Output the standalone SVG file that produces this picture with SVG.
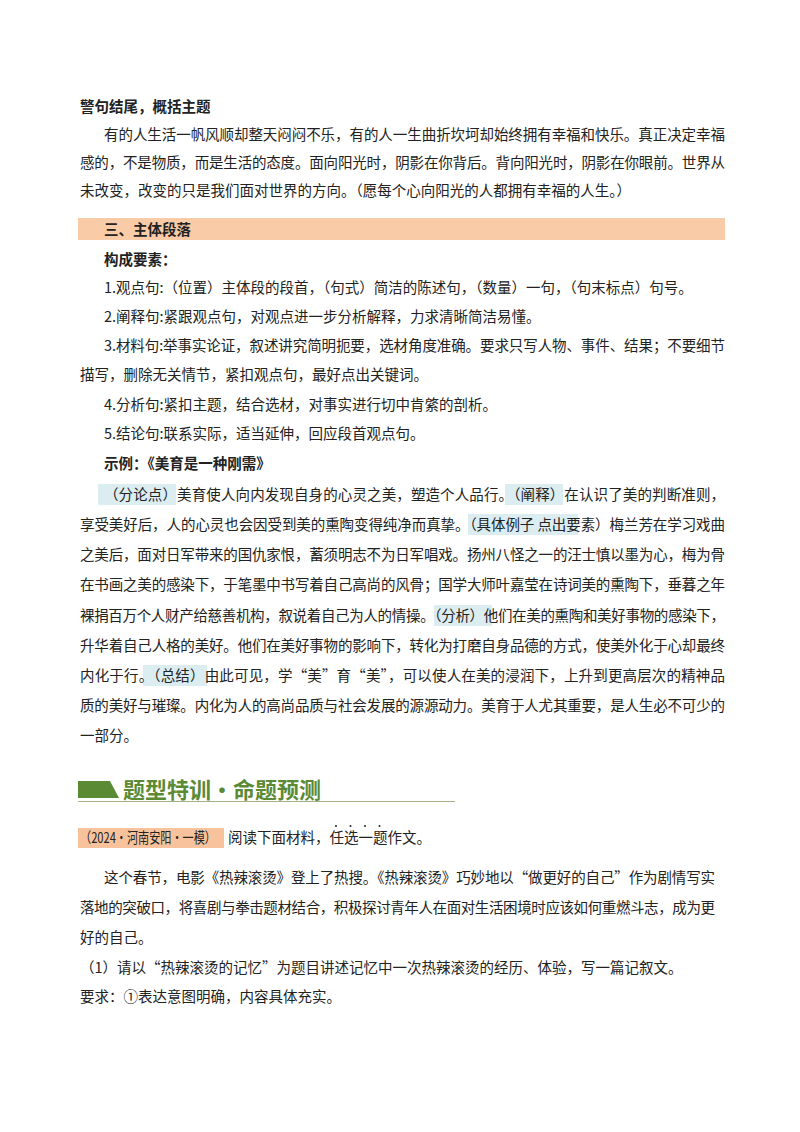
<svg xmlns="http://www.w3.org/2000/svg" width="800" height="1132" viewBox="0 0 800 1132">
<style>
text{font-family:"Noto Sans CJK SC","Noto Sans",sans-serif;font-size:14.5px;fill:#222}
.b{font-weight:bold}
.hl{fill:#dcedf2}
</style>
<rect width="800" height="1132" fill="#fff"/>
<g id="intro">
<text class="b" x="80" y="112">警句结尾，概括主题</text>
<text x="104" y="140" textLength="621" lengthAdjust="spacing">有的人生活一帆风顺却整天闷闷不乐，有的人一生曲折坎坷却始终拥有幸福和快乐。真正决定幸福</text>
<text x="80" y="168" textLength="645" lengthAdjust="spacing">感的，不是物质，而是生活的态度。面向阳光时，阴影在你背后。背向阳光时，阴影在你眼前。世界从</text>
<text x="80" y="196">未改变，改变的只是我们面对世界的方向。（愿每个心向阳光的人都拥有幸福的人生。）</text>
</g>
<g id="section3">
<rect x="78" y="218" width="647" height="22" fill="#f9cba7"/>
<text class="b" x="104" y="235">三、主体段落</text>
<text class="b" x="104" y="265">构成要素：</text>
<text x="104" y="293">1.观点句:（位置）主体段的段首，（句式）简洁的陈述句，（数量）一句，（句末标点）句号。</text>
<text x="104" y="322">2.阐释句:紧跟观点句，对观点进一步分析解释，力求清晰简洁易懂。</text>
<text x="104" y="351" textLength="621" lengthAdjust="spacing">3.材料句:举事实论证，叙述讲究简明扼要，选材角度准确。要求只写人物、事件、结果；不要细节</text>
<text x="80" y="380">描写，删除无关情节，紧扣观点句，最好点出关键词。</text>
<text x="104" y="410">4.分析句:紧扣主题，结合选材，对事实进行切中肯綮的剖析。</text>
<text x="104" y="439">5.结论句:联系实际，适当延伸，回应段首观点句。</text>
<text class="b" x="104" y="469">示例：《美育是一种刚需》</text>
</g>
<g id="example">
<rect class="hl" x="98" y="484" width="78" height="21"/>
<rect class="hl" x="505" y="484" width="58" height="21"/>
<rect class="hl" x="468" y="514" width="110" height="21"/>
<rect class="hl" x="434" y="605" width="58" height="21"/>
<rect class="hl" x="143" y="665" width="64" height="21"/>
<text x="104" y="500" textLength="621" lengthAdjust="spacing">（分论点）美育使人向内发现自身的心灵之美，塑造个人品行。（阐释）在认识了美的判断准则，</text>
<text x="80" y="530" textLength="645" lengthAdjust="spacing">享受美好后，人的心灵也会因受到美的熏陶变得纯净而真挚。（具体例子 点出要素）梅兰芳在学习戏曲</text>
<text x="80" y="560" textLength="645" lengthAdjust="spacing">之美后，面对日军带来的国仇家恨，蓄须明志不为日军唱戏。扬州八怪之一的汪士慎以墨为心，梅为骨</text>
<text x="80" y="590" textLength="645" lengthAdjust="spacing">在书画之美的感染下，于笔墨中书写着自己高尚的风骨；国学大师叶嘉莹在诗词美的熏陶下，垂暮之年</text>
<text x="80" y="621" textLength="645" lengthAdjust="spacing">裸捐百万个人财产给慈善机构，叙说着自己为人的情操。（分析）他们在美的熏陶和美好事物的感染下，</text>
<text x="80" y="651" textLength="645" lengthAdjust="spacing">升华着自己人格的美好。他们在美好事物的影响下，转化为打磨自身品德的方式，使美外化于心却最终</text>
<text x="80" y="681" textLength="645" lengthAdjust="spacing">内化于行。（总结）由此可见，学“美”育“美”，可以使人在美的浸润下，上升到更高层次的精神品</text>
<text x="80" y="711" textLength="645" lengthAdjust="spacing">质的美好与璀璨。内化为人的高尚品质与社会发展的源源动力。美育于人尤其重要，是人生必不可少的</text>
<text x="80" y="741">一部分。</text>
</g>
<g id="title">
<polygon points="78,781 110,781 119,798 78,798" fill="#5b8a35"/>
<text class="b" x="123" y="798" style="font-size:22px;fill:#5b8a35">题型特训·命题预测</text>
<line x1="78" y1="801.5" x2="455" y2="801.5" stroke="#a5b085" stroke-width="1.2"/>
</g>
<g id="task">
<rect x="78" y="828" width="146" height="20" fill="#f8c39c"/>
<text x="80" y="843" textLength="136" lengthAdjust="spacingAndGlyphs">（2024·河南安阳·一模）</text>
<text x="228" y="843">阅读下面材料，任选一题作文。</text>
<g fill="#222"><circle cx="336" cy="826" r="1"/><circle cx="350.5" cy="826" r="1"/><circle cx="365" cy="826" r="1"/><circle cx="379.5" cy="826" r="1"/></g>
<text x="104" y="883" textLength="611" lengthAdjust="spacing">这个春节，电影《热辣滚烫》登上了热搜。《热辣滚烫》巧妙地以“做更好的自己”作为剧情写实</text>
<text x="80" y="913" textLength="635" lengthAdjust="spacing">落地的突破口，将喜剧与拳击题材结合，积极探讨青年人在面对生活困境时应该如何重燃斗志，成为更</text>
<text x="80" y="943">好的自己。</text>
<text x="80" y="973">（1）请以“热辣滚烫的记忆”为题目讲述记忆中一次热辣滚烫的经历、体验，写一篇记叙文。</text>
<text x="80" y="1002">要求：①表达意图明确，内容具体充实。</text>
</g>
</svg>
